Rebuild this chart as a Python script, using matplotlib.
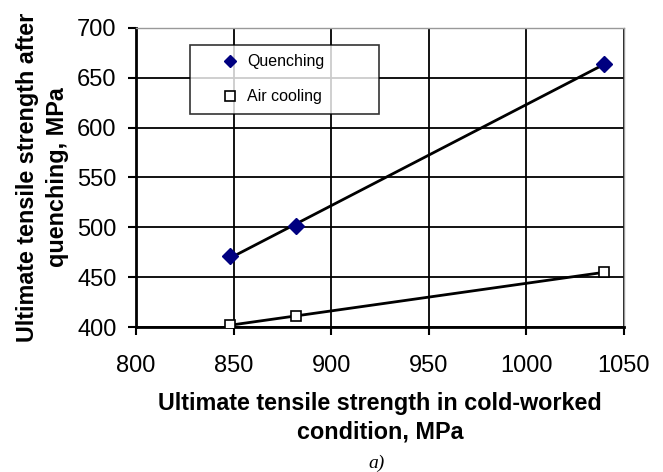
import matplotlib.pyplot as plt
import numpy as np

plt.rcParams['font.family'] = ['Liberation Sans', 'DejaVu Sans']

# cold-worked UTS (x) and UTS after heat treatment (y)
x_quench = [848, 882, 1040]
y_quench = [471, 501, 664]
x_air = [848, 882, 1040]
y_air = [402, 411, 455]

fig = plt.figure(figsize=(6.63, 4.72), dpi=100)
ax = fig.add_axes([0.205, 0.307, 0.736, 0.634])

# linear trend lines
for xs, ys in [(x_quench, y_quench), (x_air, y_air)]:
    k, b = np.polyfit(xs, ys, 1)
    xx = np.array([min(xs), max(xs)])
    ax.plot(xx, k * xx + b, color='black', lw=2, zorder=3)

ax.plot(x_quench, y_quench, 'D', color='#000080', ms=8, label='Quenching', zorder=4)
ax.plot(x_air, y_air, 's', mfc='white', mec='black', mew=1.2, ms=7,
        label='Air cooling', zorder=4)

ax.set_xlim(800, 1050)
ax.set_ylim(400, 700)
ax.set_xticks(np.arange(800, 1051, 50))
ax.set_yticks(np.arange(400, 701, 50))
ax.grid(True, color='black', lw=1.3)
ax.set_axisbelow(True)
ax.tick_params(direction='out', length=6, width=1.5, labelsize=17, colors='black', pad=8)
ax.tick_params(axis='x', pad=14)
for s in ['left', 'bottom']:
    ax.spines[s].set_linewidth(2)
for s in ['top', 'right']:
    ax.spines[s].set_color('#999999')
    ax.spines[s].set_linewidth(1)

ax.set_xlabel('Ultimate tensile strength in cold-worked\ncondition, MPa',
              fontsize=16.8, fontweight='bold', labelpad=11, linespacing=1.3)
ax.set_ylabel('Ultimate tensile strength after\nquenching, MPa',
              fontsize=16.8, fontweight='bold', labelpad=6, linespacing=1.35)

leg = ax.legend(loc='upper left', bbox_to_anchor=(0.111, 0.843, 0.387, 0.1), mode='expand',
                fontsize=11.5, frameon=True, fancybox=False, edgecolor='black',
                borderpad=0.6, labelspacing=1.25, handletextpad=-0.8, handlelength=3.75,
                borderaxespad=0)
leg.get_frame().set_linewidth(1.2)
for h in leg.legend_handles:
    h.set_markersize(6.5)

fig.text(0.568, 0.019, 'a)', fontsize=14, style='italic', family='Liberation Serif',
         ha='center', va='center')

fig.savefig('out.png', dpi=100)
